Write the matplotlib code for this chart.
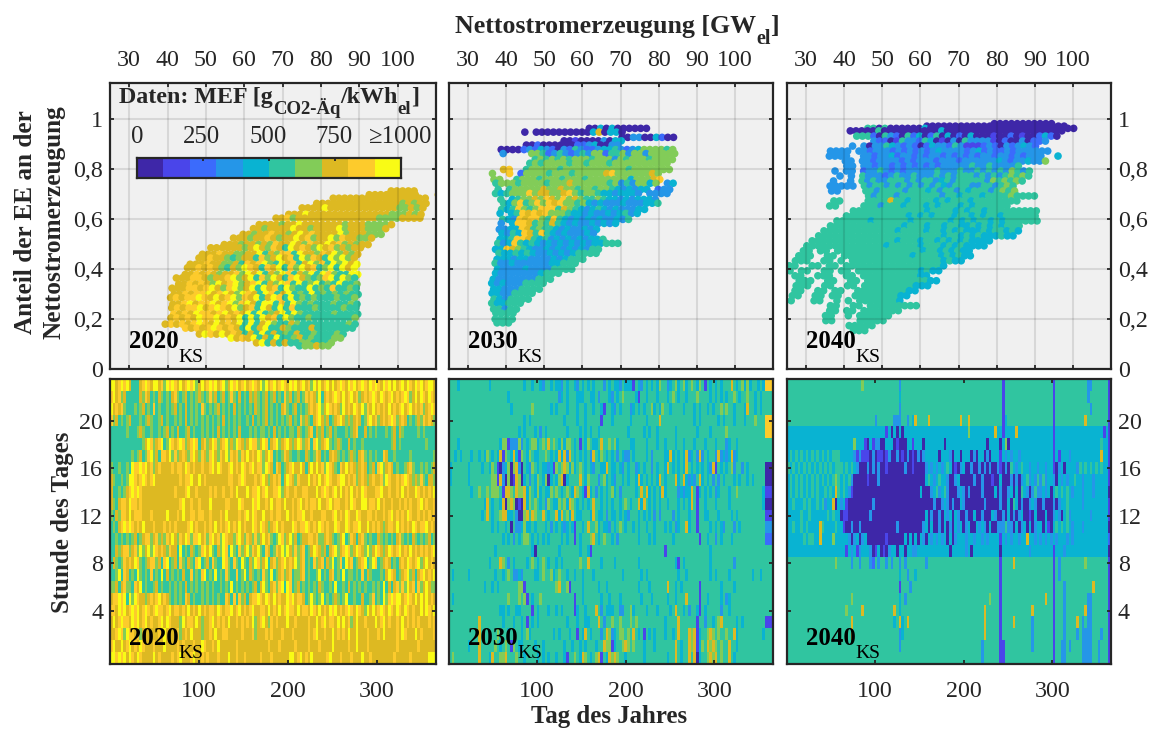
"""MEF der Nettostromerzeugung 2020/2030/2040: Streudiagramme und Jahres-Heatmaps."""

import matplotlib
matplotlib.use("Agg")
import matplotlib.pyplot as plt
import numpy as np
from matplotlib.colors import BoundaryNorm, ListedColormap

W, H = 1153, 729
plt.rcParams["font.family"] = ["Liberation Serif", "DejaVu Serif"]

mef_colors = ["#3E27A8", "#4A45EA", "#3B6BFC", "#2596E8", "#09B3D2",
              "#30C5A0", "#82CC58", "#DDB922", "#FDCB2C", "#F9FB15"]
cbar_labels = ["0", "250", "500", "750", "≥1000"]
gw_ticks = [30, 40, 50, 60, 70, 80, 90, 100]
share_ticks = [0, 0.2, 0.4, 0.6, 0.8, 1]
share_labels = ["0", "0,2", "0,4", "0,6", "0,8", "1"]
day_ticks = [100, 200, 300]
hour_ticks = [4, 8, 12, 16, 20]

# Streudaten: je Zeile Anteil EE, erste Leistung [GW], dann MEF-Klasse (0-9) alle 1,5 GW
gw_step = 1.5

share_2020 = [.712, .697, .683, .662, .644, .618, .603, .577, .561, .538, .523, .497, .484, .458, .443, .418, .404,
              .377, .363, .338, .322, .297, .284, .258, .243, .218, .203, .178, .162, .138, .122, .103, .091]
first_2020 = [98.3, 92.6, 83.2, 78.9, 75.1, 71.6, 68.3, 63.9, 62.4, 59.7, 57.2, 54.8, 51.3, 49.1, 48.2, 45.9, 45.2,
              44.6, 42.3, 42.9, 41.2, 41.7, 40.8, 41.4, 41.1, 41.6, 40.9, 39.4, 44.7, 48.3, 56.6, 63.2, 74.4]
codes_2020 = [
    "77777",
    "777777777   7",
    "77777777777777777",
    "77777777777777767677",
    "7777977777777777766767",
    "777977777777777777666767",
    "77867777777777777766667777",
    "777767797777777677766667",
    "776777797767777967776667",
    "7767787767978777796777666",
    "7776778767797867796877667",
    "77767767687797687797867677",
    "777777679768759787697867677",
    "7778776677957688597768796767",
    "7787765677586797859687596967",
    "777877667587896597857968596979",
    "778787657698758795869785695979",
    "7787876778697957698576959865599",
    "77788767789679586975897656895965",
    "77878769789678957698595695659556",
    "777887897689679597859655956585565",
    "778788978976987598579565956565655",
    "787889879789687957985956565556556",
    "778978897896897599585965655565565",
    "787889789879678597595855565555655",
    "878798878978795956795965555565555",
    "787879889787959597859655655555556",
    "7878789879787959579655765555555565",
    "878789878759579557655575555555",
    "79879787575957565755655565",
    "97879575955675655566",
    "79575755665556",
    "566766",
]

share_2030 = [.963, .948, .927, .913, .896, .878, .862, .838, .823, .798, .782, .758, .743, .718, .702, .678, .663, .638,
              .622, .598, .582, .558, .542, .518, .502, .478, .462, .438, .422, .398, .382, .358, .342, .318, .302, .278,
              .262, .238, .222, .198, .183]
first_2030 = [61.8, 44.9, 70.4, 55.2, 45.3, 38.7, 39.2, 47.6, 46.2, 39.3, 36.4, 36.8, 37.3, 37.9, 37.2, 38.6, 39.3, 38.8,
              38.4, 39.1, 38.7, 38.2, 38.9, 38.4, 37.8, 37.2, 38.1, 37.6, 37.1, 37.7, 37.2, 36.6, 36.2, 36.7, 36.3, 36.8,
              36.2, 36.7, 37.3, 37.1, 37.6]
codes_2030 = [
    "00404000000",
    "0 0000000000470440",
    "0033004200",
    "00100003044",
    "00200000022340033",
    "0000232432032532234453234666656",
    "3    66523532353662556366366666",
    "5656565666566636566656666",
    "5656666566566656666666666",
    "78  56666656666666666656666666",
    "6  8 2666656665666667866666676",
    "66  56665666566656666666466678",
    "56665666656667666666563536646 34",
    "5 5666667667665665665434344 233",
    "54566686776678656654434443 3333",
    "5 45667687686765565443434443",
    "5468568687866564343334333445",
    "54586568885765434543433344",
    "4 45878786665443433434534",
    "54387886585434343433435",
    "3 4887565754343343434",
    "334487565543433434",
    "43548758543433343",
    "4458875453434343445",
    "5348545434343434344555",
    "4487654334343434355",
    "544545433434345555",
    "4443443333434555",
    "533433333344555",
    "43333433335555",
    "433333334555",
    "43333333555",
    "4343335555",
    "443335555",
    "44335555",
    "5435555",
    "544555",
    "55355",
    "5555",
    "5555",
    "555",
]

share_2040 = [.982, .972, .963, .953, .932, .912, .892, .872, .852, .832, .812, .792, .772, .752, .732, .712, .692, .672, .652,
              .632, .612, .592, .572, .552, .532, .512, .492, .472, .452, .432, .412, .392, .372, .352, .332, .312, .292,
              .272, .252, .232, .212, .192, .172, .152]
first_2040 = [79.4, 61.7, 46.2, 41.6, 43.3, 47.8, 42.2, 36.4, 36.1, 40.3, 40.7, 37.6, 38.9, 37.2, 36.3, 36.7, 46.4, 37.3, 36.2,
              42.4, 40.6, 38.1, 36.4, 34.7, 33.3, 31.6, 30.2, 29.3, 28.1, 27.2, 25.6, 24.3, 24.1, 28.2, 27.4, 27.1, 26.4,
              26.1, 36.4, 36.2, 35.1, 35.2, 41.3, 42.4]
codes_2040 = [
    "00000000000",
    "0000000000000000000000000",
    "5505000000400000000000000000000000000",
    "00000500000000004000000000000000000000",
    "555205320524025040204000100201002420",
    "3220153325401030533331020030223",
    "3 3033543232024332531112320323432",
    "3333 3323332323232343333234232232333333",
    "3333  33233423323233232323233233232333  4",
    "33 332333323233323332333333432334336",
    "33 3323323232323233333533533335",
    "3 33 233532323333353335335353536535",
    "3 3 533323533533353535553535356565",
    "3  3 53533555353553453555553656565",
    "33333 535535353535354355533553565",
    "33    553555535554535535455535656",
    "535553555555535545554555565555",
    "55    555575545555454555455555555",
    "55    55535554555454555454555555",
    "555555555555545555454554555555555",
    "5555555555545454555455454554555555",
    "555555455555545555554545455454555555",
    "5555555555555455545545544545454555",
    "55555555555554555545545454445455454",
    "55555555555555555555554554545444544",
    "55555555555555545554554545454444",
    "55555555555555455555455545454444",
    "55 55 555555555555555455454544",
    "555  55 55555555555545555454544",
    "555  55 5 55555555555555554544",
    "55  55 55 555555555555555554",
    "55 55  55 55 555555555554544",
    "5 55  555  55 555555555544",
    "555  55  55 5555555555544",
    "555  55  55 555555555444",
    "55  55 55  55555555544",
    "55  55 55  5555555544",
    "5   55  5 5 55555554",
    "55  55 555555555",
    "55 55 5555555",
    "55  5 555555",
    "55    55555",
    "55555",
    "555",
]

# Heatmaps: Zeilen von Stunde 23 bis 0, je Zeichen eine MEF-Klasse für 3 Tage (Leerzeichen nur zum Zählen)
days_per_cell = 3
heat_2020 = [
    "9978989755 5789879978 6989879789 8967978989 7896798978 9789879697 8978987989 7897869797 8979789879 8978987989 8798979789 7987989789 97",
    "8978675555 5768756576 5657865675 6567656867 5675686575 6576765675 6756586756 7568787695 7878987978 9786787898 7987897878 9867979879 87",
    "9787865556 5675658565 5656756575 6565865656 7565657565 6565765675 6565786567 5656787896 7987876978 7987968797 8787978789 7897878678 98",
    "8675656755 5656765567 5655656575 6565656565 6575656565 5657565675 6565656756 5867657897 6756789767 6787568978 6787898678 7565676878 76",
    "5555556555 6765565565 6756575567 5655656565 7565656575 5565656656 5756565665 7656785767 5675655565 6785575656 5556567576 5555565655 55",
    "5555555555 5567986789 5698789867 8985786798 6789676987 6798867985 7896789767 9867858967 8965676557 5655655555 5555567565 5555555565 55",
    "5555555565 6756896758 8796867876 8976876897 6879687868 7978798679 8565687655 6557656875 6578765656 7657865656 5587556555 5565555555 56",
    "6556556598 8989786787 7778788798 7877877897 9877897879 8789788698 7587567897 7975797978 6987658797 8767875675 8967875655 6786556565 67",
    "7655656998 7898789777 7777778788 9779787777 7777887789 8777878976 7878579876 8777978797 8987789978 7867876787 7869877878 9876768657 76",
    "7556567898 9877777777 7777877789 7787777878 7787787977 7978897897 7889678778 7788777978 9878979787 9787987778 8977877879 7877987878 79",
    "7657887988 7877777777 7777778977 8778777977 7778877798 7779897787 9788797787 8978788797 7897887787 9877997887 9787787787 8787789787 78",
    "6576887978 8877787777 7977787977 8878877877 7879777787 8979877977 8788779787 8897787778 8778978798 7798778878 7787897878 7987787878 78",
    "5657898987 8797778777 8787877778 9787787879 7878978797 8779879876 7897877798 7889878798 7877987798 7889779787 8767887978 7879878897 87",
    "5565656567 5678867867 6879768798 6889786897 8698776897 6876867978 6569867967 5677887866 7876567956 8757865655 7656565786 5657656567 56",
    "5576788678 6967969878 7687759565 7656897965 7698596586 7968796587 5687969768 6785679876 7578967898 6798769679 8767987897 8797878787 89",
    "5765687879 8656788675 8956758657 6589567586 5598658659 6576986795 7867897879 6785658678 5769568597 8567895698 5678756578 7987896797 87",
    "5569587565 9656585659 5756565755 8565895659 5658655856 9576565865 9567867856 6785655695 6578565956 6565857655 5657987567 8967578978 79",
    "6675786658 7956556756 5565656575 6565656565 5656595656 5656757965 7868959856 7565656576 5565955657 5656565565 6595757868 6978586797 66",
    "7889895969 8776787897 8765656587 5655656565 6558758586 7578898798 7978779897 8875696569 5656765695 5655755685 6596898997 8987979797 87",
    "8879897898 9789878988 7897887879 7879787887 9878897897 8789778879 7879789887 9788798797 8798978789 8798769797 8987987987 9878779798 79",
    "7978988798 9789787789 7987776978 8797677897 8787977878 7879678976 8787779778 7777877978 9788797978 6797787779 7897877879 7878787778 78",
    "7789869887 8677777787 9777786787 9777677879 7788777778 7778677787 8777877787 7777878977 8779787879 7797778777 8797777879 8777978777 78",
    "8977978978 7987778777 9777787877 7877987787 9777777877 7777777778 7778777778 7777877787 7779777778 7797778777 7777777877 7777787777 77",
    "9989897987 9877779787 7778789777 8977878777 8777977877 8777778777 8777777997 8978797777 7897778777 8777977877 7777778777 7787777779 99",
]
heat_2030 = [
    "5554555555 5555545555 5555555545 5455435545 4435455435 4545455535 4544354441 5435454546 5534564564 5654651545 4545557545 6464554548",
    "5555555555 5555555555 5545555555 5555555555 5345455544 4554453555 4354565555 4155455545 5545654554 5556555545 4545455654 5565545455",
    "5555555555 5555555555 5554555555 5655555545 4555455545 5455455415 5435455534 5454556454 6554555545 5545455454 5565655455 5475545455",
    "5555555555 5555555555 5555555545 4555555555 5554555545 5455555155 5455555545 5555455557 5555555555 5545455555 5454555455 5455565558",
    "5555555555 5555555555 5555554545 5545354555 5555455554 5454554555 5555555455 5554545545 5555545555 5554555545 5555655555 5555555558",
    "5554555555 5555555554 6613336354 5664565756 5464665451 5465445755 6564555544 5555455545 5455545545 5545554555 4555345545 5555555555",
    "5545455545 5454654547 1654741654 6544556545 4747375454 5453754654 5453543354 5555453555 5447454547 3453735455 3734347345 5555555555",
    "4555555455 5545546510 3460673054 3654544341 6567646456 5454355447 5445435455 3454553545 5475454547 5454545437 1545456355 3545555550",
    "4555555455 5555556617 3060176045 3546546045 4670455557 5465553564 5435545455 4745454547 5455574574 3435745453 5354555454 5545455550",
    "5555555545 5655656665 1776576674 6546454465 6545654765 4174535454 5645355555 4575745454 7455553434 4751454545 3455545565 5555555541",
    "5555555555 5554754554 7067601074 6565453654 4656476545 4545755454 5455456545 5747545454 5545554545 4751554555 4555545555 5555555540",
    "5555555555 5545754556 7744530067 5765575455 7475647544 5554754453 5445454355 5454545353 5555354555 4551554455 5455554545 5555555551",
    "5555555555 5555554545 5450533464 4545554535 4543454155 4575564544 3545654554 5455455455 5454534557 4551555545 4543555354 5555555553",
    "5555555555 5555555555 4545354566 5454545455 5545455154 5556754565 5453555555 5455545455 5555455555 5555155455 3545554555 5555555552",
    "5555555555 5555555455 5555555555 5405555555 5455555554 5541555555 5555555555 5555555555 5155555555 5555555545 5555555555 5555555555",
    "5555555555 5555545557 6535455554 5654565455 4545555556 5575555455 5545555555 5455555555 5555541545 5555555545 5555555355 5555555555",
    "5455555455 5555555455 4565334355 5544565564 5655455455 4555455555 5555545555 5545455555 5555554554 5555555545 4555545555 5555455455",
    "5555555555 5554554545 5555556615 5555555555 6755615555 4555554554 5555555555 5455545555 5575545455 5555155555 5545555455 5555555555",
    "5455555555 5555555555 5565556561 5455655555 5555555155 4555555455 4555455555 5545554555 5545545557 5555155455 5545345555 5555555555",
    "5555555555 5555555554 4545544555 5154555455 4545555145 5455575354 4455335564 5555455545 5554575545 3554154555 5535545555 5555555555",
    "5555555555 5755555555 4555455451 5454555555 5555455545 5445557535 5655655565 6555555555 5455557555 5551553554 5675555545 4555555551",
    "5555555555 5755555565 5545555456 4555555554 5455545515 4754555357 6345665657 5451545455 5455457555 7671455676 5655655745 5555555545",
    "5555555455 5755555654 5651654455 5545545555 5554554554 5455545576 6145567656 5554555455 5555575455 7671465767 6565575545 5555555555",
    "5655555555 5755547556 6755565545 5554545455 4554155654 7654567154 7676554555 5554555555 5545575455 7570455676 7565575455 5555555555",
]
heat_2040 = [
    "5555555555 5555555555 5555555565 5555555555 5535555555 5555555555 5555555555 5555555555 5155555555 5555555555 1555555555 5553355555 51",
    "5555555555 5555555555 5555555555 5555555555 5545555555 5555555555 5555555555 5555555555 5155555555 5555555555 1555555555 5553555555 51",
    "5555555555 5555555555 5555555555 5555555555 5535555555 5555555555 5555555555 5555555555 5155555555 5555555555 1555555555 5555355555 51",
    "5555555555 5555555555 5555555555 5553555555 3335535475 5557555555 5555575575 5555555555 5145555555 5555555555 1555555555 5575555555 51",
    "4444444444 4444444444 4444444444 4444444140 4040444444 4444444444 4444444464 4444444474 4144447444 4444444444 1444444444 4444444441 41",
    "4444444444 4444444444 4444464441 0413300444 0100044144 4044444440 4444444444 4444404444 0460444444 4444444444 1444444444 4444444454 41",
    "4545454545 4545454555 4444431311 1030110130 0301030103 0344444044 4304404440 3044030444 1434344344 4444444444 1414443444 4444444474 41",
    "5454545454 5454545455 5454543000 3030300100 0000300100 0034343434 5401034003 0030303003 1030543454 4344344344 1034044443 5454545454 41",
    "4545454545 4545454565 4545300000 1000300000 0000000000 0045434544 3003400000 3003000100 4000303034 5343535344 3043434454 4344434444 41",
    "4545454545 4544545475 4543100000 0000000000 0000000000 4000345345 3000343030 0003000040 3003404054 3035334340 4545454344 4344434444 40",
    "4454445454 4545344704 3410000000 0030000000 0000000000 0000030034 3030043000 0000300000 3004054030 0343003000 3034454444 4344444444 41",
    "4444454454 4444454544 0110000000 0300000000 0000000000 0040300304 3404300300 4003000430 0304030340 0104000400 3430453444 4444344444 41",
    "4454454544 4475444454 4100300300 0000000000 0300000000 0340400304 0304340340 0434304003 3353304034 0403440410 4545454344 4344444444 40",
    "4444445455 4474444644 4443034034 0000000100 0000404040 4304343434 0403444344 3443434444 1434344344 7443434343 4344434344 4444444444 42",
    "4444444444 4444444444 4414341344 4301401034 4044044334 4444444444 4044444340 4444444444 0444444444 4344444444 1444344444 4444444444 40",
    "5555555555 5555555565 5555355355 5325355353 5535355555 5535555555 5555555555 5555555555 1555575555 5555555555 1535555555 5565555555 51",
    "5555555555 5555555555 5555555555 5555555555 5545535545 5555555555 5555555555 5555555555 1555555555 5555555555 1535555555 5555555555 51",
    "5555555555 5555555555 5555555555 5555555555 5515553555 5555555555 5555555555 5555555555 1555555555 5555555555 1555355555 5555575555 51",
    "5555555555 5555555555 5555655555 5555555555 5545355555 5555555555 5555555555 5555556555 1555555555 5555555755 1555355555 5553355555 51",
    "5555555555 5555555555 5565555575 5555555555 7545555555 5555555555 5555555555 5555755555 1555555555 5575555555 1555355555 5573355555 51",
    "5555555555 5555555555 5555755555 5555555555 4574575555 5555555555 5555555555 5555755555 1555575555 5535555555 1555355557 5353355555 51",
    "5555555555 5555555555 5555755555 5555555555 5534555555 5555555555 5555555555 5555755555 1555555555 5535555555 1555355553 5333355535 51",
    "5555555555 5555555555 5555555555 5555555555 5535555555 5555555555 5555555555 5553555555 1155555555 5535555555 1553353555 5333355355 51",
    "5555555555 5555555555 5555555555 5555555555 5555555555 5555555555 5555555555 5553555555 1155555555 5555555555 1553355555 5333355355 51",
]


def place_pieces(fig, x, y, pieces, color="#262626"):
    # Text mit Tief- und Hochstellung stückweise von links setzen, x/y in Pixeln
    renderer = fig.canvas.get_renderer()
    for text, size, weight, dy in pieces:
        t = fig.text(x / W, 1 - (y + dy) / H, text, fontsize=size, fontweight=weight,
                     color=color, ha="left", va="baseline")
        x = t.get_window_extent(renderer).x1


def px_axes(fig, left, top, right, bottom):
    return fig.add_axes([left / W, 1 - bottom / H, (right - left) / W, (bottom - top) / H])


def style_axes(ax):
    for spine in ax.spines.values():
        spine.set_linewidth(1.6)
        spine.set_color("#262626")
    ax.tick_params(which="both", direction="in", top=True, bottom=True, left=True, right=True,
                   length=3.2, width=1.3, color="#262626", labelcolor="#262626", labelsize=17.3)


def scatter_panel(ax, shares, firsts, rows):
    xs, ys, cs = [], [], []
    for share, first, row in zip(shares, firsts, rows):
        for i, code in enumerate(row):
            if code != " ":
                xs.append(first + i * gw_step)
                ys.append(share)
                cs.append(int(code))
    ax.set_facecolor("#F0F0F0")
    ax.scatter(xs, ys, c=cs, cmap=cmap, norm=norm, s=30, linewidths=0, zorder=2)
    ax.set_xlim(25, 110)
    ax.set_ylim(0, 1.147)
    ax.set_xticks(gw_ticks)
    ax.set_yticks(share_ticks)
    ax.grid(True, color="#000000", alpha=0.1, linewidth=1.5, zorder=3)
    ax.set_axisbelow(False)
    style_axes(ax)
    ax.tick_params(labeltop=True, labelbottom=False, labelleft=False, pad=8)
    ax.tick_params(axis="y", pad=5)


def heat_panel(ax, rows):
    n_cols = 366 // days_per_cell
    grid = []
    for row in rows:
        cells = row.replace(" ", "")
        grid.append([int(c) for c in cells.ljust(n_cols, cells[-1])[:n_cols]])
    ax.imshow(np.array(grid), cmap=cmap, norm=norm, aspect="auto", interpolation="nearest",
              extent=[0.5, 366.5, -0.5, 23.5])
    ax.set_xticks(day_ticks)
    ax.set_yticks(hour_ticks)
    style_axes(ax)
    ax.tick_params(labelleft=False, pad=12)
    ax.tick_params(axis="y", pad=5)


cmap = ListedColormap(mef_colors)
norm = BoundaryNorm(np.arange(-0.5, 10.5), cmap.N)

fig = plt.figure(figsize=(W / 100, H / 100), dpi=100)

columns = [(110, 436), (449, 773), (787, 1111)]
top_data = [(share_2020, first_2020, codes_2020), (share_2030, first_2030, codes_2030),
            (share_2040, first_2040, codes_2040)]
heat_data = [heat_2020, heat_2030, heat_2040]
years = ["2020", "2030", "2040"]

for k, (left, right) in enumerate(columns):
    top_ax = px_axes(fig, left, 82.5, right, 368.5)
    scatter_panel(top_ax, *top_data[k])
    heat_ax = px_axes(fig, left, 379, right, 664)
    heat_panel(heat_ax, heat_data[k])
    if k == 0:
        top_ax.tick_params(labelleft=True)
        top_ax.set_yticklabels(share_labels)
        heat_ax.tick_params(labelleft=True)
    if k == 2:
        top_ax.tick_params(labelright=True)
        top_ax.set_yticklabels(share_labels)
        heat_ax.tick_params(labelright=True)
    place_pieces(fig, left + 19, 348, [(years[k], 17.8, "bold", 0), ("KS", 14, "normal", 14)], color="#000000")
    place_pieces(fig, left + 19, 645, [(years[k], 17.8, "bold", 0), ("KS", 14, "normal", 13)], color="#000000")

# Farbskala im ersten Feld
cbar_ax = px_axes(fig, 137, 158, 401, 178)
cbar_ax.imshow(np.arange(10).reshape(1, 10), cmap=cmap, norm=norm, aspect="auto", extent=[0, 1000, 0, 1])
cbar_ax.set_yticks([])
cbar_ax.set_xticks([250, 500, 750])
cbar_ax.tick_params(direction="in", top=True, bottom=False, labelbottom=False, length=2.5, width=1.3, color="#262626")
for spine in cbar_ax.spines.values():
    spine.set_linewidth(1.6)
    spine.set_color("#262626")

for label, xpos in zip(cbar_labels, [137, 202, 268, 334, 400]):
    fig.text(xpos / W, 1 - 143 / H, label, fontsize=17.8, color="#262626", ha="center", va="baseline")

place_pieces(fig, 119, 103, [("Daten: MEF [g", 17.3, "bold", 0), ("CO2-Äq", 13.5, "bold", 11),
                             ("/kWh", 17.3, "bold", 0), ("el", 13.5, "bold", 11), ("]", 17.3, "bold", 0)])
place_pieces(fig, 455, 33, [("Nettostromerzeugung [GW", 18.6, "bold", 0), ("el", 14.5, "bold", 11),
                            ("]", 18.6, "bold", 0)])

fig.text(40 / W, 1 - 222 / H, "Anteil der EE an der\nNettostromerzeugung", rotation=90, fontsize=18.2,
         fontweight="bold", color="#262626", ha="center", va="center", multialignment="center", linespacing=1.28)
fig.text(63 / W, 1 - 522 / H, "Stunde des Tages", rotation=90, fontsize=17.9, fontweight="bold",
         color="#262626", ha="center", va="center")
fig.text(609 / W, 1 - 717 / H, "Tag des Jahres", fontsize=17.9, fontweight="bold", color="#262626",
         ha="center", va="center")

fig.savefig("out.png", dpi=100)
